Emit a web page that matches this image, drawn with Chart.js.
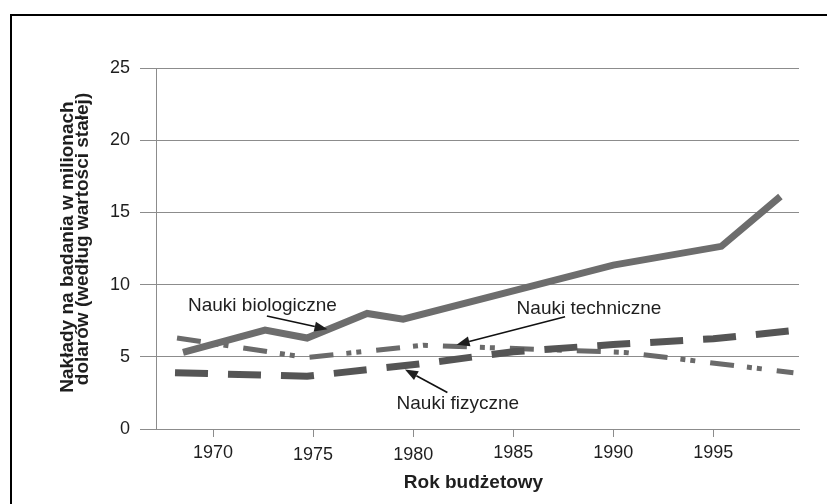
<!DOCTYPE html>
<html>
<head>
<meta charset="utf-8">
<script src="https://cdn.jsdelivr.net/npm/chart.js@4.4.1/dist/chart.umd.min.js"></script>
<style>
  html, body { margin: 0; padding: 0; background: #fff; }
  canvas { display: block; }
</style>
</head>
<body>
<canvas id="chart" width="827" height="504"></canvas>
<script>
// lata budżetowe i nakłady (mln USD, wartość stała)
const bioYears = [1968.5, 1972.6, 1974.7, 1977.7, 1979.5, 1990.0, 1995.4, 1998.35];
const bioValues = [5.3, 6.85, 6.3, 8.0, 7.6, 11.35, 12.65, 16.1];
const physYears = [1968.1, 1974.7, 1980.3, 1985.0, 1990.0, 1995.0, 1998.9];
const physValues = [3.9, 3.65, 4.5, 5.35, 5.85, 6.25, 6.8];
const techYears = [1968.2, 1974.7, 1980.5, 1990.6, 1999.0];
const techValues = [6.3, 4.95, 5.8, 5.3, 3.9];

const xTickLabels = ['1970', '1975', '1980', '1985', '1990', '1995'];
const yTickLabels = ['0', '5', '10', '15', '20', '25'];
const seriesNames = ['Nauki biologiczne', 'Nauki techniczne', 'Nauki fizyczne'];
const xTitle = 'Rok budżetowy';
const yTitle = ['Nakłady na badania w milionach', 'dolarów (według wartości stałej)'];

// opisy serii ze strzałkami, w jednostkach osi (rok, wartość)
const notes = [
  { text: seriesNames[0], at: [1968.75, 8.19], from: [1972.69, 7.83], to: [1975.72, 6.90] },
  { text: seriesNames[1], at: [1985.17, 7.96], from: [1987.59, 7.78], to: [1982.17, 5.84] },
  { text: seriesNames[2], at: [1979.17, 1.36], from: [1981.71, 2.53], to: [1979.59, 4.12] }
];

const FONT = '"Liberation Sans", Arial, Helvetica, sans-serif';
const GRID = '#8c8c8c';
const TEXT = '#1e1e1e';

function toPoints(xs, ys) {
  return xs.map((x, i) => ({ x: x, y: ys[i] }));
}

function arrow(ctx, x1, y1, x2, y2) {
  const a = Math.atan2(y2 - y1, x2 - x1);
  const len = 13, hw = 5;
  const bx = x2 - len * Math.cos(a), by = y2 - len * Math.sin(a);
  ctx.beginPath();
  ctx.moveTo(x1, y1);
  ctx.lineTo(bx, by);
  ctx.stroke();
  ctx.beginPath();
  ctx.moveTo(x2, y2);
  ctx.lineTo(bx + hw * Math.sin(a), by - hw * Math.cos(a));
  ctx.lineTo(bx - hw * Math.sin(a), by + hw * Math.cos(a));
  ctx.closePath();
  ctx.fill();
}

const decor = {
  id: 'decor',
  afterDatasetsDraw(chart) {
    const { ctx, scales: { x, y } } = chart;
    ctx.save();
    ctx.font = '19px ' + FONT;
    ctx.fillStyle = TEXT;
    ctx.strokeStyle = '#111';
    ctx.lineWidth = 1.6;
    ctx.textAlign = 'left';
    ctx.textBaseline = 'alphabetic';
    notes.forEach(function (n) {
      ctx.fillText(n.text, x.getPixelForValue(n.at[0]), y.getPixelForValue(n.at[1]));
      arrow(ctx,
        x.getPixelForValue(n.from[0]), y.getPixelForValue(n.from[1]),
        x.getPixelForValue(n.to[0]), y.getPixelForValue(n.to[1]));
    });
    ctx.restore();
  },
  afterDraw(chart) {
    const { ctx, chartArea, scales: { x } } = chart;
    ctx.save();

    // ramka
    ctx.strokeStyle = '#000';
    ctx.lineWidth = 2;
    ctx.strokeRect(11, 15, 900, 600);

    // etykiety lat (1975 i 1980 lekko niżej, jak w oryginale)
    ctx.fillStyle = TEXT;
    ctx.font = '18px ' + FONT;
    ctx.textAlign = 'center';
    ctx.textBaseline = 'alphabetic';
    xTickLabels.forEach(function (lab) {
      const drop = (lab === '1975' || lab === '1980') ? 2.5 : 0;
      ctx.fillText(lab, x.getPixelForValue(Number(lab)), chartArea.bottom + 28.7 + drop);
    });

    // tytuł osi X
    ctx.font = 'bold 19px ' + FONT;
    ctx.fillText(xTitle, (chartArea.left + chartArea.right) / 2 - 4, chartArea.bottom + 59.3);

    // tytuł osi Y, dwie linie
    const centers = [247, 239];
    const baselines = [72.6, 88.4];
    yTitle.forEach(function (line, i) {
      ctx.save();
      ctx.translate(baselines[i], centers[i]);
      ctx.rotate(-Math.PI / 2);
      ctx.fillText(line, 0, 0);
      ctx.restore();
    });
    ctx.restore();
  }
};

new Chart(document.getElementById('chart'), {
  type: 'line',
  data: {
    datasets: [
      {
        label: seriesNames[0],
        data: toPoints(bioYears, bioValues),
        borderColor: '#6d6d6d',
        borderWidth: 7,
        borderJoinStyle: 'miter',
        order: 1
      },
      {
        label: seriesNames[1],
        data: toPoints(techYears, techValues),
        borderColor: '#6a6a6a',
        borderWidth: 5,
        borderDash: [24, 13, 5, 5, 5, 15],
        order: 2
      },
      {
        label: seriesNames[2],
        data: toPoints(physYears, physValues),
        borderColor: '#555555',
        borderWidth: 7,
        borderDash: [33, 20],
        order: 0
      }
    ]
  },
  options: {
    responsive: false,
    animation: false,
    devicePixelRatio: 1,
    layout: { padding: { left: 0, top: 68, right: 28, bottom: 0 } },
    elements: {
      point: { radius: 0 },
      line: { tension: 0, borderCapStyle: 'butt', fill: false }
    },
    plugins: {
      legend: { display: false },
      tooltip: { enabled: false }
    },
    scales: {
      x: {
        type: 'linear',
        min: 1967.15,
        max: 1999.28,
        afterFit: function (s) { s.height = 75; },
        ticks: { stepSize: 5, includeBounds: false, display: false },
        grid: { drawOnChartArea: false, drawTicks: true, tickLength: 8, color: GRID },
        border: { display: true, color: GRID }
      },
      y: {
        min: 0,
        max: 25,
        afterFit: function (s) { s.width = 156; },
        ticks: {
          stepSize: 5,
          padding: 10,
          color: TEXT,
          font: { family: FONT, size: 18 },
          callback: function (v) { return yTickLabels[v / 5]; }
        },
        grid: { color: GRID, tickLength: 16, drawTicks: true },
        border: { display: true, color: GRID }
      }
    }
  },
  plugins: [decor]
});
</script>
</body>
</html>
